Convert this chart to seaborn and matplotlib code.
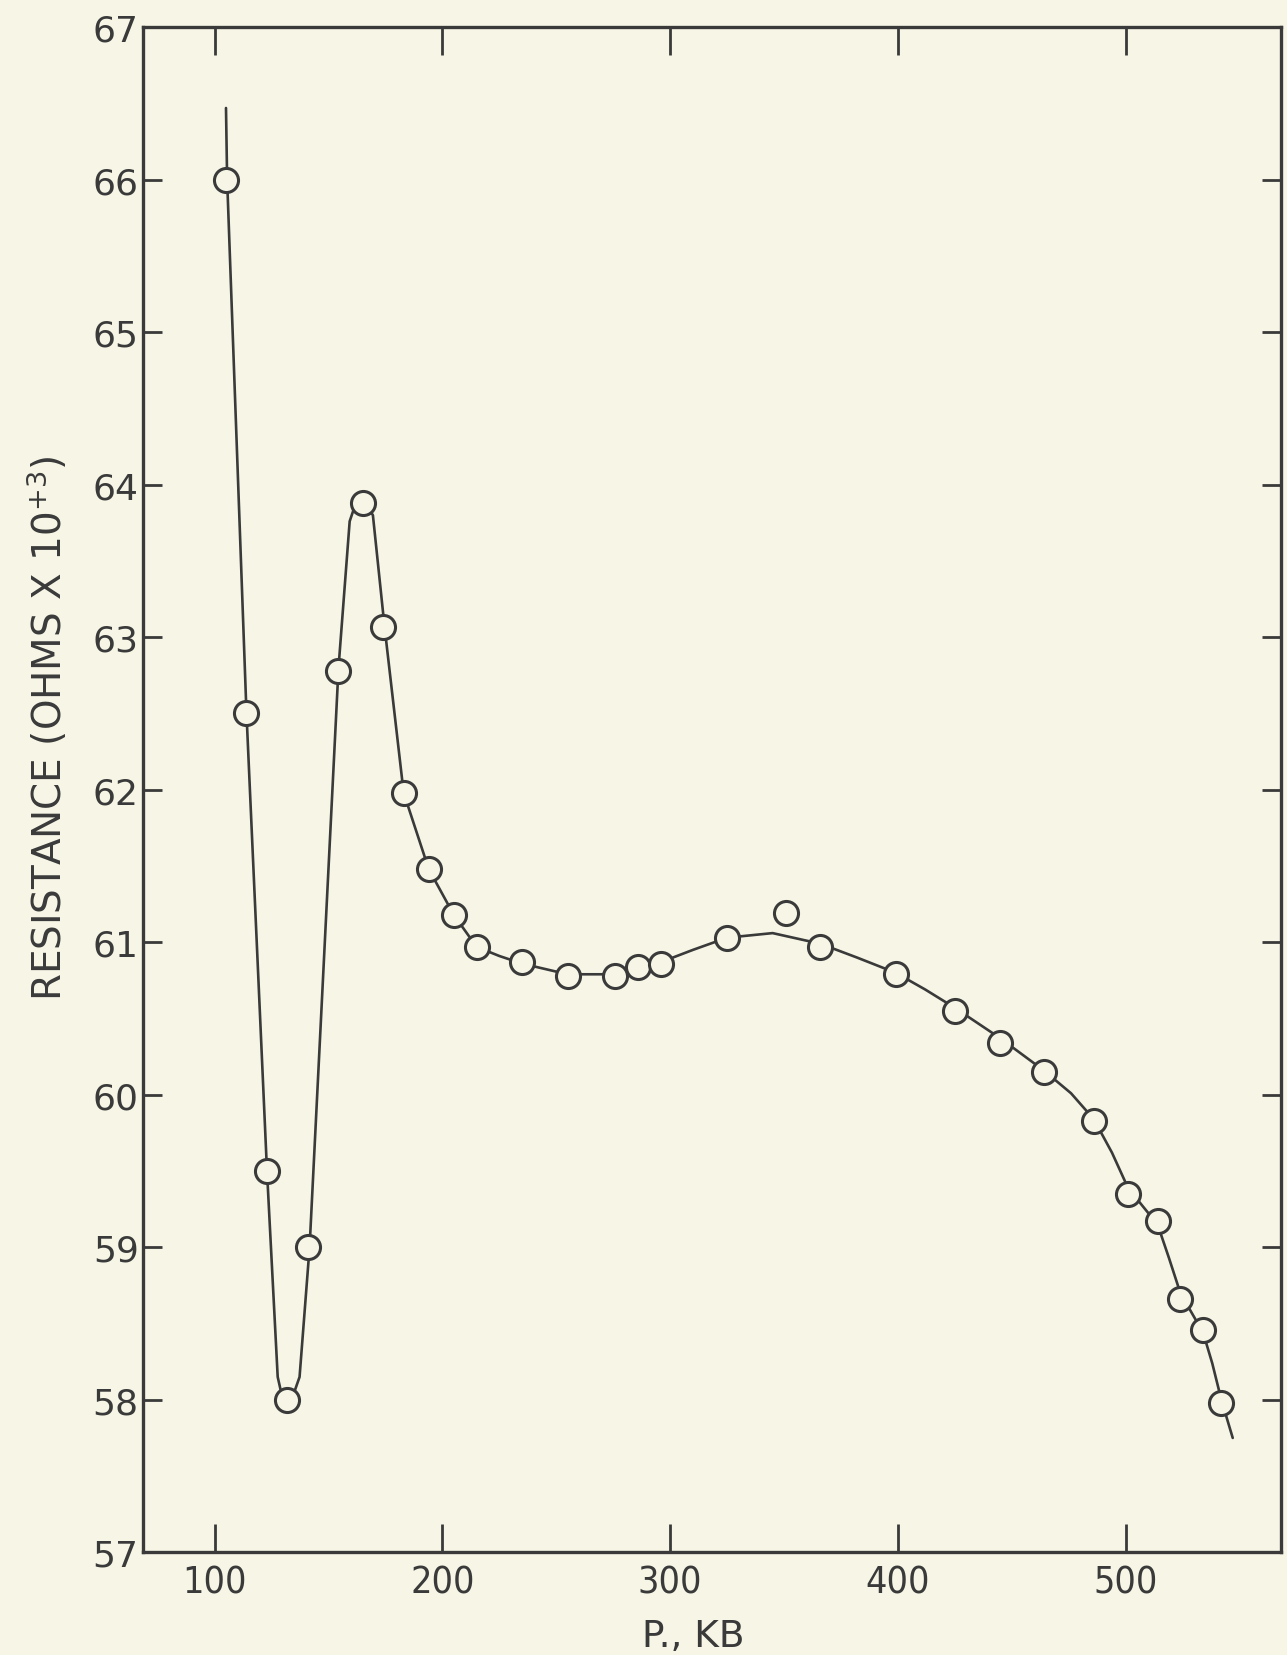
import matplotlib
matplotlib.use("Agg")
import matplotlib.pyplot as plt
import seaborn as sns
import pandas as pd

# ---------------------------
# Data
# ---------------------------
pressure_kb = [105, 114, 123, 132, 141, 154, 165, 174, 183, 194, 205, 215,
               235, 255, 276, 286, 296, 325, 351, 366, 399, 425, 445, 464,
               486, 501, 514, 524, 534, 542]
resistance = [66.00, 62.50, 59.50, 58.00, 59.00, 62.78, 63.88, 63.07, 61.98,
              61.48, 61.18, 60.97, 60.87, 60.78, 60.78, 60.84, 60.86, 61.03,
              61.19, 60.97, 60.79, 60.55, 60.34, 60.15, 59.83, 59.35, 59.17,
              58.66, 58.46, 57.98]

# hand-drawn curve through the points
curve_x = [105, 105.5, 114, 123, 127.7, 129.5, 132, 134.5, 137.3, 141.7,
           154.4, 159.3, 162, 166, 169.5, 174.6, 183, 194, 205, 215, 225,
           235, 255, 276, 286, 296, 310, 325, 345, 366, 382, 399, 412, 425,
           445, 464, 476, 486, 494, 501, 508, 514, 519, 524, 529, 534, 538,
           542, 547]
curve_y = [66.47, 66.00, 62.50, 59.50, 58.15, 58.03, 58.00, 58.03, 58.15,
           59.00, 62.80, 63.76, 63.88, 63.88, 63.80, 63.07, 61.98, 61.48,
           61.18, 60.97, 60.91, 60.86, 60.79, 60.79, 60.83, 60.87, 60.95,
           61.03, 61.06, 60.99, 60.90, 60.80, 60.69, 60.57, 60.37, 60.16,
           60.01, 59.84, 59.62, 59.39, 59.26, 59.15, 58.93, 58.70, 58.57,
           58.44, 58.24, 58.00, 57.75]

x_ticks = [100, 200, 300, 400, 500]
y_ticks = [57, 58, 59, 60, 61, 62, 63, 64, 65, 66, 67]

PAPER = "#F7F6E6"
INK = "#3a3a3a"

sns.set_theme(style="ticks")
plt.rcParams["font.family"] = ["DejaVu Sans"]
plt.rcParams["mathtext.default"] = "regular"

fig = plt.figure(figsize=(12.87, 16.56), dpi=100, facecolor=PAPER)
ax = fig.add_axes([0.111, 0.062, 0.884, 0.921])
ax.set_facecolor(PAPER)

pts = pd.DataFrame({"P": pressure_kb, "R": resistance})
fit = pd.DataFrame({"P": curve_x, "R": curve_y})

sns.lineplot(data=fit, x="P", y="R", sort=False, color=INK, linewidth=1.9,
             ax=ax, zorder=2)
sns.scatterplot(data=pts, x="P", y="R", marker="o", s=300, facecolor=PAPER,
                edgecolor=INK, linewidth=2.2, ax=ax, zorder=3)

ax.set_xlim(68.5, 568)
ax.set_ylim(57, 67)
ax.set_xticks(x_ticks)
ax.set_yticks(y_ticks)

for side in ["left", "right", "top", "bottom"]:
    ax.spines[side].set_visible(True)
    ax.spines[side].set_color(INK)
    ax.spines[side].set_linewidth(2.4)

ax.tick_params(axis="x", direction="in", length=20, width=2, colors=INK,
               top=True, bottom=True, labelsize=27, pad=9)
ax.tick_params(axis="y", direction="in", length=14, width=2, colors=INK,
               left=True, right=True, labelsize=26, pad=3)
for lbl in ax.get_xticklabels():
    lbl.set_fontstretch("condensed")

ax.set_xlabel("P., KB", fontsize=27, color=INK)
ax.set_ylabel("RESISTANCE (OHMS X 10$^{+3}$)", fontsize=28, color=INK)
ax.xaxis.set_label_coords(0.484, -0.043)
ax.yaxis.label.set_va("center")
ax.yaxis.set_label_coords(-0.084, 0.541)

fig.savefig("out.png", dpi=100, facecolor=PAPER)
